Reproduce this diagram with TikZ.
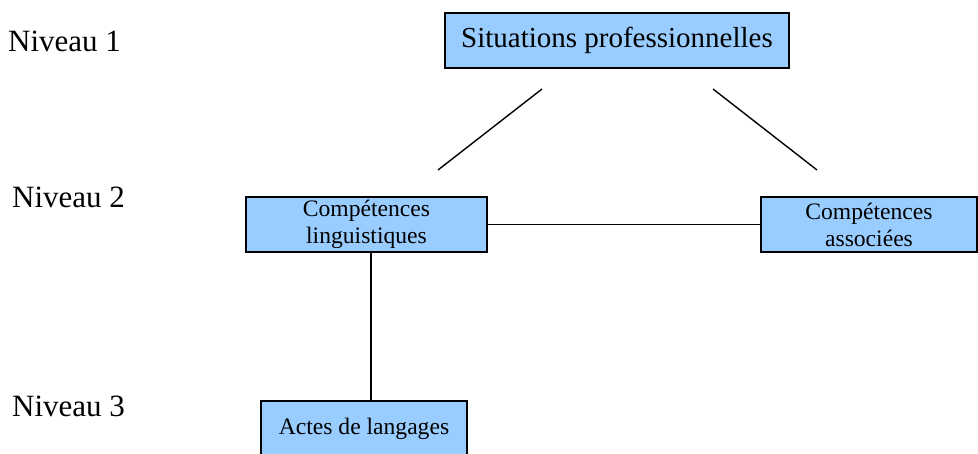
\documentclass[tikz,border=0pt]{standalone}
\usepackage{fontspec}
\setmainfont{Liberation Serif}
\usepackage{tikz}
\usetikzlibrary{positioning}

\begin{document}
\begin{tikzpicture}[x=1pt,y=-1pt]
\tikzstyle{every node}+=[inner sep=0pt]
\tikzstyle{niveau}=[anchor=base west,font=\fontsize{31}{36}\selectfont]
\tikzstyle{boite}=[draw=black,line width=1.8pt,fill={rgb,255:red,153;green,204;blue,255},minimum height=55pt,align=center,font=\fontsize{23.6}{27}\selectfont]
\tikzstyle{trait}=[black,line width=1.4pt]
\clip (0,0) rectangle (978,454);
\useasboundingbox (0,0) rectangle (978,454);
% niveaux
\node [niveau] (niv1) at (8,52) {Niveau 1};
\node [niveau] (niv2) at (12,208) {Niveau 2};
\node [niveau] (niv3) at (12,417) {Niveau 3};
% boites
\node [boite,minimum width=344pt,font=\fontsize{29}{33}\selectfont] (sitpro) at (617,40.5) {Situations professionnelles};
\node [boite,minimum width=241pt] (ling) at (366.5,224.5) {Comp\'etences\\linguistiques};
\node [boite,minimum width=216pt] (assoc) at (869,224.5) {Comp\'etences\\associ\'ees};
\node [boite,minimum width=206pt] (actes) at (364,428.5) {Actes de langages};
% traits
\coordinate (g1) at (542,89);
\coordinate (g2) at (438,170);
\coordinate (d1) at (713,89);
\coordinate (d2) at (817,170);
\draw [trait] (g1) -- (g2);
\draw [trait] (d1) -- (d2);
\draw [trait] (ling.east) -- (assoc.west);
\draw [trait] ([xshift=4.5pt]ling.south) -- ([xshift=4.5pt]ling.south |- actes.north);
\end{tikzpicture}
\end{document}
